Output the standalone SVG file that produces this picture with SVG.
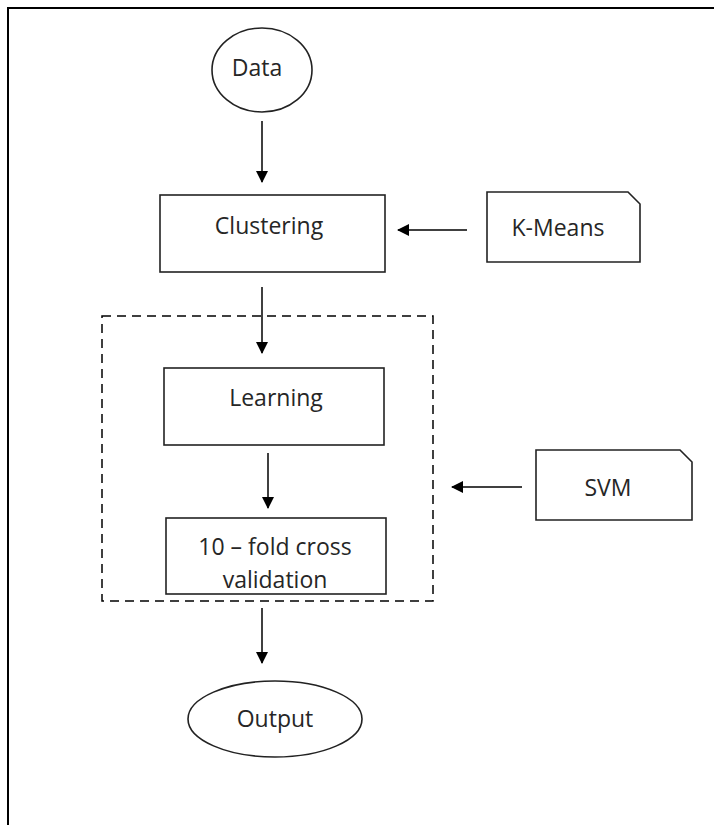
<svg xmlns="http://www.w3.org/2000/svg" width="714" height="825" viewBox="0 0 714 825">
  <defs>
    <marker id="arrow" markerWidth="12" markerHeight="12" refX="11" refY="6" orient="auto" markerUnits="userSpaceOnUse">
      <path d="M0,0 L12,6 L0,12 Z" fill="#000"/>
    </marker>
    <style>
      .shape { fill: #fff; stroke: #222; stroke-width: 1.6; }
      .edge { fill: none; stroke: #000; stroke-width: 1.5; marker-end: url(#arrow); }
      .label { font-family: "Open Sans", "Liberation Sans", sans-serif; font-size: 23px; fill: #262626; text-anchor: middle; }
    </style>
  </defs>

  <rect width="714" height="825" fill="#fff"/>
  <!-- page frame, open to the right and bottom -->
  <path d="M8,830 L8,8 L720,8" fill="none" stroke="#000" stroke-width="2"/>

  <g id="data">
    <ellipse class="shape" cx="262" cy="70" rx="50" ry="42"/>
    <text class="label" x="257" y="76">Data</text>
  </g>

  <g id="clustering">
    <rect class="shape" x="160" y="195" width="225" height="77"/>
    <text class="label" x="269" y="234">Clustering</text>
  </g>

  <g id="kmeans">
    <path class="shape" d="M487,192 L628,192 L640,204 L640,262 L487,262 Z"/>
    <text class="label" x="558" y="236">K-Means</text>
  </g>

  <g id="svm-group">
    <rect x="102" y="316" width="331" height="285" fill="none" stroke="#000" stroke-width="1.5" stroke-dasharray="9,6"/>
  </g>

  <g id="learning">
    <rect class="shape" x="164" y="368" width="220" height="77"/>
    <text class="label" x="276" y="406">Learning</text>
  </g>

  <g id="crossval">
    <rect class="shape" x="166" y="518" width="220" height="76"/>
    <text class="label" x="275" y="555">10 – fold cross</text>
    <text class="label" x="275" y="588">validation</text>
  </g>

  <g id="svm">
    <path class="shape" d="M536,450 L680,450 L692,462 L692,520 L536,520 Z"/>
    <text class="label" x="608" y="496">SVM</text>
  </g>

  <g id="output">
    <ellipse class="shape" cx="275" cy="719" rx="87" ry="38"/>
    <text class="label" x="275" y="727">Output</text>
  </g>

  <g id="connectors">
    <line class="edge" x1="262" y1="121" x2="262" y2="182"/>
    <line class="edge" x1="467" y1="230" x2="398" y2="230"/>
    <line class="edge" x1="262" y1="287" x2="262" y2="353"/>
    <line class="edge" x1="268" y1="453" x2="268" y2="508"/>
    <line class="edge" x1="522" y1="487" x2="452" y2="487"/>
    <line class="edge" x1="262" y1="608" x2="262" y2="663"/>
  </g>
</svg>
